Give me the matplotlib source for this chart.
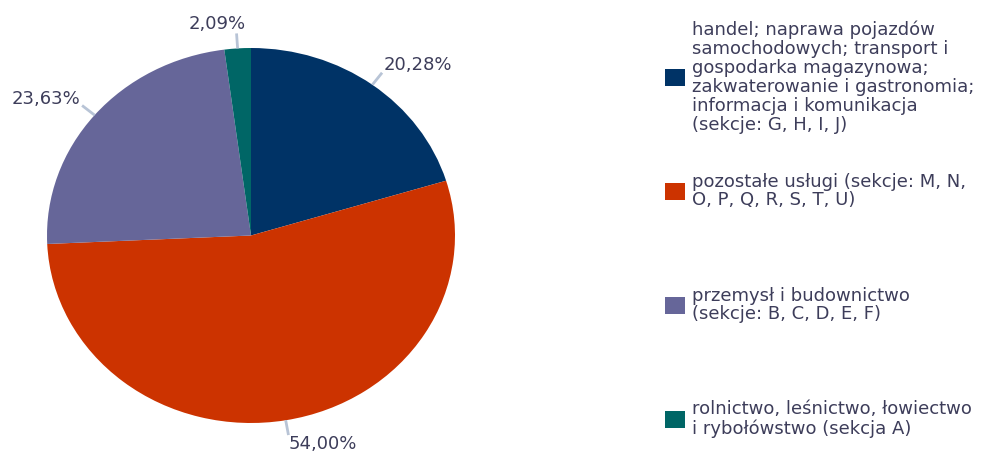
import numpy as np
import matplotlib.pyplot as plt
from matplotlib.patches import Rectangle

# dane
udzialy = [20.28, 54.00, 23.63, 2.09]
etykiety_proc = ['20,28%', '54,00%', '23,63%', '2,09%']
kolory = ['#003366', '#cc3300', '#666699', '#006666']
legenda = [
    'handel; naprawa pojazdów\nsamochodowych; transport i\ngospodarka magazynowa;\n'
    'zakwaterowanie i gastronomia;\ninformacja i komunikacja\n(sekcje: G, H, I, J)',
    'pozostałe usługi (sekcje: M, N,\nO, P, Q, R, S, T, U)',
    'przemysł i budownictwo\n(sekcje: B, C, D, E, F)',
    'rolnictwo, leśnictwo, łowiectwo\ni rybołówstwo (sekcja A)',
]

kolor_tekstu = '#3d3d5a'
kolor_linii = '#b8c4d6'
W, H = 1003, 457

fig = plt.figure(figsize=(W / 100, H / 100), dpi=100)
# os wykresu kolowego (lekko rozciagnieta w poziomie jak w oryginale)
ax = fig.add_axes([47 / W, (H - 423) / H, 408 / W, 375 / H])
wedges, _ = ax.pie(udzialy, colors=kolory, startangle=90, counterclock=False,
                   wedgeprops=dict(linewidth=0))
ax.set_aspect('auto')
ax.set_xlim(-1, 1)
ax.set_ylim(-1, 1)
ax.axis('off')

# etykiety procentowe z krotkimi liniami
for w, txt in zip(wedges, etykiety_proc):
    kat = np.deg2rad((w.theta1 + w.theta2) / 2)
    c, s = np.cos(kat), np.sin(kat)
    ax.plot([c, 1.08 * c], [s, 1.08 * s], color=kolor_linii, lw=2,
            solid_capstyle='butt', clip_on=False)
    ha = 'left' if c > 0 else 'right'
    dx = 0.045 if abs(c) < 0.3 and c < 0 else 0
    ax.text(1.09 * c + dx, 1.13 * s, txt, ha=ha, va='center',
            fontsize=13, color=kolor_tekstu)

# legenda
for i, (lab, kol) in enumerate(zip(legenda, kolory)):
    yc = 77 + i * 114
    fig.patches.append(Rectangle((665 / W, (H - yc - 8.5) / H), 20 / W, 17 / H,
                                 transform=fig.transFigure, facecolor=kol,
                                 edgecolor='none'))
    fig.text(692 / W, (H - yc) / H, lab, ha='left', va='center',
             fontsize=13, color=kolor_tekstu, linespacing=1.07)

fig.savefig('out.png', dpi=100)
